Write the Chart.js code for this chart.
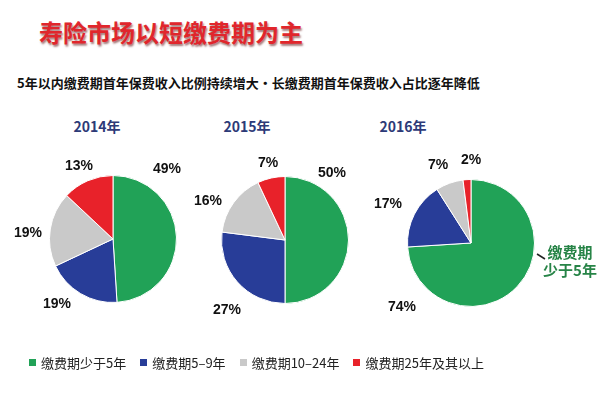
<!DOCTYPE html>
<html>
<head>
<meta charset="utf-8">
<script src="https://cdn.jsdelivr.net/npm/chart.js@4.4.0/dist/chart.umd.min.js"></script>
<style>
    html, body { margin: 0; padding: 0; background: #fff; }
    #page { position: relative; width: 610px; height: 393px; overflow: hidden; font-family: "Noto Sans CJK SC", sans-serif; }
    #page canvas { position: absolute; left: 0; top: 0; }
    .title { position: absolute; left: 39px; top: 14px; font-size: 24px; font-weight: bold; color: #e0262c; letter-spacing: 0px;
        text-shadow: 1px 2px 2px rgba(90, 10, 10, 0.55); white-space: nowrap; }
    .sub { position: absolute; left: 17px; top: 73px; font-size: 13px; font-weight: bold; color: #111; white-space: nowrap; }
    .year { position: absolute; top: 116px; font-size: 14px; font-weight: bold; color: #2d3a78; white-space: nowrap; transform: translateX(-50%); }
    #legend { position: absolute; left: 29px; top: 353px; display: flex; font-size: 13px; color: #222; white-space: nowrap; }
    #legend .item { display: flex; align-items: center; margin-right: 14px; }
    #legend .box { width: 7px; height: 7px; margin-right: 5px; }
</style>
</head>
<body>
<div id="page">
    <div class="title">寿险市场以短缴费期为主</div>
    <div class="sub">5年以内缴费期首年保费收入比例持续增大・长缴费期首年保费收入占比逐年降低</div>
    <div class="year" style="left:97px">2014年</div>
    <div class="year" style="left:247px">2015年</div>
    <div class="year" style="left:403px">2016年</div>
    <canvas id="c2014" width="610" height="393"></canvas>
    <canvas id="c2015" width="610" height="393"></canvas>
    <canvas id="c2016" width="610" height="393"></canvas>
    <div id="legend"></div>
</div>
<script>
var categories = ['缴费期少于5年', '缴费期5–9年', '缴费期10–24年', '缴费期25年及其以上'];
var years = ['2014年', '2015年', '2016年'];
var share2014 = [49, 19, 19, 13];
var share2015 = [50, 27, 16, 7];
var share2016 = [74, 17, 7, 2];

var colors = ['#21a257', '#283d98', '#c9c9c9', '#e8222a'];

// pie centres and label offsets (layout only)
var pies = [
    { id: 'c2014', data: share2014, cx: 113, cy: 239, labels: [[54, -70], [-56, 65], [-85, -6], [-34, -73]] },
    { id: 'c2015', data: share2015, cx: 285, cy: 240, labels: [[47, -67], [-58, 70], [-77, -39], [-17, -77]] },
    { id: 'c2016', data: share2016, cx: 471, cy: 243, labels: [[-69, 64], [-83, -39], [-33, -78], [0, -83]], note: true }
];
var R = 64;

var pctLabels = {
    id: 'pctLabels',
    afterDatasetsDraw: function(chart) {
        var p = chart.options.plugins.pctLabels;
        var meta = chart.getDatasetMeta(0);
        var ctx = chart.ctx;
        ctx.save();
        ctx.font = 'bold 14px "Liberation Sans", Arial, sans-serif';
        ctx.fillStyle = '#111';
        ctx.textAlign = 'center';
        ctx.textBaseline = 'middle';
        meta.data.forEach(function(arc, i) {
            var off = p.offsets[i];
            ctx.fillText(chart.data.datasets[0].data[i] + '%', arc.x + off[0], arc.y + off[1]);
        });
        if (p.note) {
            var a = meta.data[0];
            ctx.strokeStyle = '#222';
            ctx.lineWidth = 1.5;
            ctx.beginPath();
            ctx.moveTo(a.x + 66, a.y + 11);
            ctx.lineTo(a.x + 74, a.y + 16);
            ctx.stroke();
            ctx.font = 'bold 15px "Noto Sans CJK SC", sans-serif';
            ctx.fillStyle = '#278447';
            ctx.fillText('缴费期', a.x + 99, a.y + 9);
            ctx.fillText('少于5年', a.x + 99, a.y + 27);
        }
        ctx.restore();
    }
};

pies.forEach(function(p) {
    var ctx = document.getElementById(p.id).getContext('2d');
    new Chart(ctx, {
        type: 'pie',
        data: {
            labels: categories,
            datasets: [{
                data: p.data,
                backgroundColor: colors,
                borderColor: '#ffffff',
                borderWidth: 1
            }]
        },
        options: {
            responsive: false,
            animation: false,
            events: [],
            layout: {
                padding: { left: p.cx - R, right: 610 - p.cx - R, top: p.cy - R, bottom: 393 - p.cy - R }
            },
            plugins: {
                legend: { display: false },
                tooltip: { enabled: false },
                pctLabels: { offsets: p.labels, note: !!p.note }
            }
        },
        plugins: [pctLabels]
    });
});

var legend = document.getElementById('legend');
categories.forEach(function(name, i) {
    var item = document.createElement('div');
    item.className = 'item';
    item.innerHTML = '<span class="box" style="background:' + colors[i] + '"></span><span>' + name + '</span>';
    legend.appendChild(item);
});
</script>
</body>
</html>
